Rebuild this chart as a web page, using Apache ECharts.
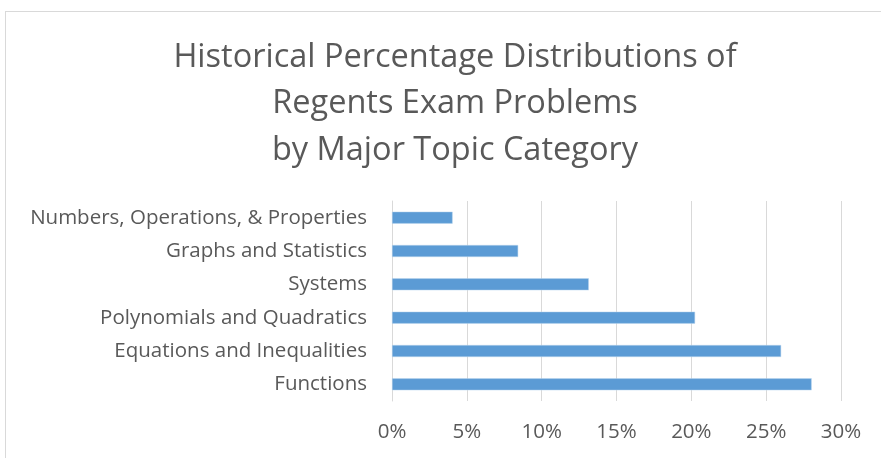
<!DOCTYPE html>
<html><head><meta charset="utf-8">
<script src="https://cdn.jsdelivr.net/npm/echarts@6/dist/echarts.min.js"></script>
<style>
html,body{margin:0;padding:0;background:#fff;overflow:hidden}
#frame{position:absolute;left:5px;top:11px;width:900px;height:460px;border:1px solid #d9d9d9;box-sizing:border-box}
#c{position:absolute;left:0;top:0;width:881px;height:458px}
</style></head>
<body>
<div id="frame"></div>
<div id="c"></div>
<script>
const titleLines = ["Historical Percentage Distributions of", "Regents Exam Problems", "by Major Topic Category"];
const categories = ["Functions", "Equations and Inequalities", "Polynomials and Quadratics", "Systems", "Graphs and Statistics", "Numbers, Operations, & Properties"];
const values = [0.2804, 0.260, 0.2025, 0.1315, 0.0843, 0.0405];
const xTicks = [0, 0.05, 0.10, 0.15, 0.20, 0.25, 0.30];

const FONT = "Open Sans";
const chart = echarts.init(document.getElementById('c'), null, {renderer:'canvas'});
chart.setOption({
  animation:false,
  backgroundColor:'transparent',
  title:{
    text:titleLines.join('\n'),
    left:450, textAlign:'center', top:29,
    textStyle:{fontFamily:FONT, fontSize:32.5, fontWeight:'normal', color:'#595959', lineHeight:46.5}
  },
  grid:{left:392, right:40, top:201, bottom:57, containLabel:false},
  xAxis:{
    type:'value', min:xTicks[0], max:xTicks[xTicks.length-1], interval:0.05,
    axisLine:{show:false}, axisTick:{show:false},
    splitLine:{show:true, lineStyle:{color:'#d9d9d9', width:1}},
    axisLabel:{margin:21, fontFamily:FONT, fontSize:20.5, color:'#595959',
      formatter:v=>Math.round(v*100)+'%'}
  },
  yAxis:{
    type:'category', data:categories,
    axisLine:{show:true, lineStyle:{color:'#d9d9d9'}}, axisTick:{show:false},
    axisLabel:{margin:25, fontFamily:FONT, fontSize:20.5, color:'#595959'}
  },
  series:[{
    type:'bar', data:values, barWidth:'36%',
    itemStyle:{color:'#5b9bd5', borderColor:'#bdd7ee', borderWidth:0.5}
  }]
});
</script>
</body></html>
